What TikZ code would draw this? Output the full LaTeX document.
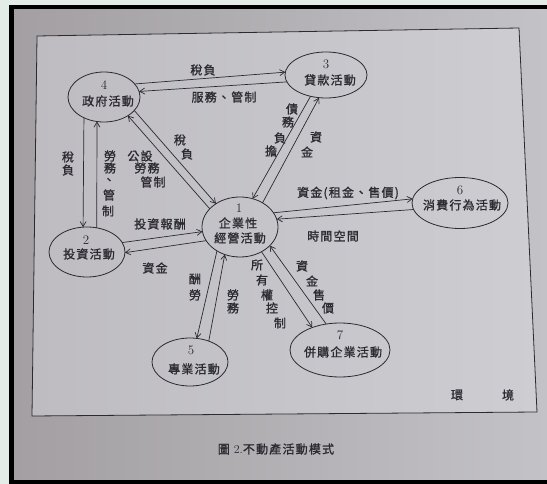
\documentclass[tikz,border=0pt]{standalone}
\usepackage{fontspec}
\newfontfamily\cjk[LetterSpace=10,FakeBold=1.2]{Noto Sans CJK TC}
\usetikzlibrary{shapes.geometric,arrows.meta}
\definecolor{ink}{HTML}{2A2A30}
\definecolor{paperL}{HTML}{A39FA2}
\definecolor{paperR}{HTML}{C3C2C7}
\definecolor{innerL}{HTML}{BEBCC1}
\definecolor{innerR}{HTML}{CDCDD2}
\definecolor{strip}{HTML}{E4ECE8}
\tikzset{
  act/.style={draw=ink, line width=0.8pt, ellipse, inner sep=0pt, outer sep=0pt},
  arr/.style={draw=ink, line width=0.7pt, -{Straight Barb[length=5pt,width=6pt]}},
  lbl/.style={text=ink, font=\cjk\fontsize{12}{14}\selectfont, inner sep=0pt},
  num/.style={text=ink, font=\fontsize{13}{15}\selectfont, inner sep=0pt},
}
\begin{document}
\begin{tikzpicture}[x=1pt,y=-1pt]
\useasboundingbox (0,0) rectangle (547,484);
% photo background
\fill[strip] (0,0) rectangle (547,484);
\fill[black] (9,5) rectangle (547,484);
\shade[left color=paperL, right color=paperR] (14,10) rectangle (547,479);
\shade[left color=innerL, right color=innerR, draw=ink, line width=0.8pt]
  (37,36) -- (519,28) -- (537,412) -- (32,416) -- cycle;

% activity ellipses
\node[act, minimum width=76, minimum height=60] (n1) at (240,227) {};
\node[act, minimum width=76, minimum height=50] (n2) at (87,252) {};
\node[act, minimum width=82, minimum height=46] (n3) at (326,75) {};
\node[act, minimum width=72, minimum height=50] (n4) at (104,97) {};
\node[act, minimum width=76, minimum height=48] (n5) at (190,362) {};
\node[act, minimum width=96, minimum height=51] (n6) at (460,203) {};
\node[act, minimum width=100, minimum height=54] (n7) at (340,350) {};

% ellipse texts
\node[num] (n1a) at (239,208) {1};
\node[lbl] (n1b) at (238,223) {企業性};
\node[lbl] (n1c) at (240,238) {經營活動};
\node[num] (n2a) at (86,240) {2};
\node[lbl] (n2b) at (89,254) {投資活動};
\node[num] (n3a) at (326,64) {3};
\node[lbl] (n3b) at (330,80) {貸款活動};
\node[num] (n4a) at (104,85) {4};
\node[lbl] (n4b) at (108,101) {政府活動};
\node[num] (n5a) at (191,350) {5};
\node[lbl] (n5b) at (194,369) {專業活動};
\node[num] (n6a) at (460,190) {6};
\node[lbl] (n6b) at (462,205) {消費行為活動};
\node[num] (n7a) at (340,335) {7};
\node[lbl] (n7b) at (343,352) {併購企業活動};

% connectors
\draw[arr] (n4.23) -- (n3.176);
\draw[arr] (n3.190) -- (n4.9);
\draw[arr] (n4.-24) -- (n1.136);
\draw[arr] (n1.149) -- (n4.-38);
\draw[arr] (n4.226) -- (n2.99);
\draw[arr] (n2.68) -- (n4.254);
\draw[arr] (n2.15) -- (n1.187);
\draw[arr] (n1.202) -- (n2.-1);
\draw[arr] (n1.226) -- (n5.74);
\draw[arr] (n5.48) -- (n1.241);
\draw[arr] (n3.234) -- (n1.66);
\draw[arr] (n1.47) -- (n3.253);
\draw[arr] (n1.23) -- (n6.175);
\draw[arr] (n6.188) -- (n1.12);
\draw[arr] (n1.-49) -- (n7.141);
\draw[arr] (n7.118) -- (n1.-32);

% connector labels
\node[lbl] (t43) at (203,70) {稅負};
\node[lbl] (t34) at (224,97) {服務、管制};
\node[lbl] (t41a) at (180,140) {稅};
\node[lbl] (t41b) at (187,154) {負};
\node[lbl] (t14a) at (140,156) {公設};
\node[lbl] (t14b) at (147,168) {勞務};
\node[lbl] (t14c) at (153,182) {管制};
\node[lbl] (t42a) at (68,157) {稅};
\node[lbl] (t42b) at (68,170) {負};
\node[lbl] (t24a) at (110,156) {勞};
\node[lbl] (t24b) at (110,168) {務};
\node[lbl] (t24c) at (109,181) {、};
\node[lbl] (t24d) at (109,195) {管};
\node[lbl] (t24e) at (108,211) {制};
\node[lbl] (t21) at (160,224) {投資報酬};
\node[lbl] (t12) at (155,268) {資金};
\node[lbl] (t15a) at (195,279) {酬};
\node[lbl] (t15b) at (195,295) {勞};
\node[lbl] (t51a) at (233,295) {勞};
\node[lbl] (t51b) at (233,308) {務};
\node[lbl] (t31a) at (292,109) {債};
\node[lbl] (t31b) at (288,122) {務};
\node[lbl] (t31c) at (280,138) {負};
\node[lbl] (t31d) at (271,151) {擔};
\node[lbl] (t13a) at (316,137) {資};
\node[lbl] (t13b) at (307,152) {金};
\node[lbl] (t16) at (348,193) {資金(租金、售價)};
\node[lbl] (t61) at (333,236) {時間空間};
\node[lbl] (t17a) at (257,265) {所};
\node[lbl] (t17b) at (262,280) {有};
\node[lbl] (t17c) at (267,295) {權};
\node[lbl] (t17d) at (272,308) {控};
\node[lbl] (t17e) at (280,323) {制};
\node[lbl] (t71a) at (302,266) {資};
\node[lbl] (t71b) at (312,281) {金};
\node[lbl] (t71c) at (319,295) {售};
\node[lbl] (t71d) at (328,308) {價};

% environment and caption
\node[lbl] (env1) at (457,395) {環};
\node[lbl] (env2) at (508,395) {境};
\node[text=ink, inner sep=0pt, font=\fontsize{12}{14}\selectfont] (cap) at (276,449) {{\cjk 圖} 2.{\cjk 不動產活動模式}};
\end{tikzpicture}
\end{document}
